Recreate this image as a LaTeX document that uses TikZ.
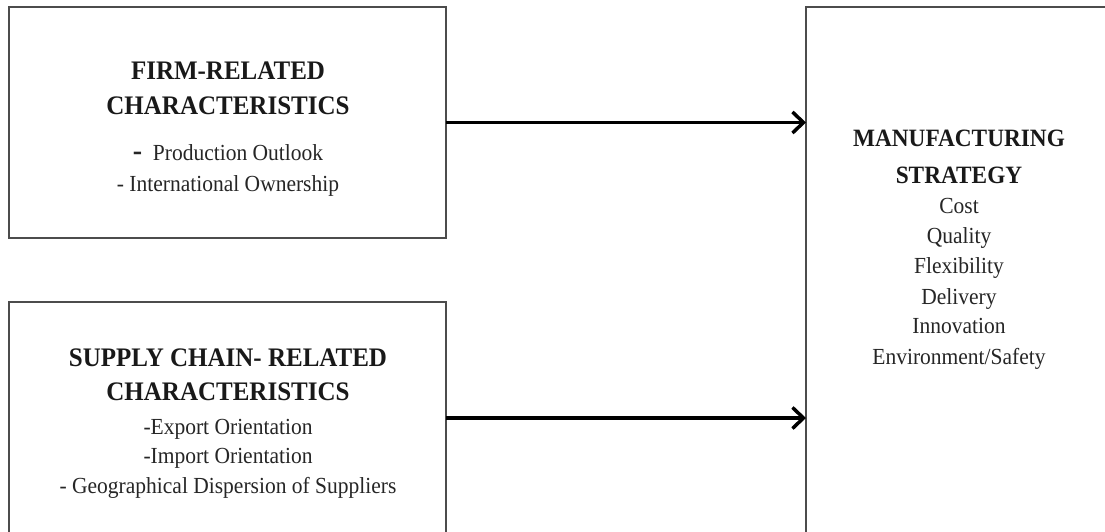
\documentclass[tikz,border=0pt]{standalone}
\usepackage{fontspec}
\setmainfont{Liberation Serif}
\usetikzlibrary{arrows.meta}
\begin{document}
\begin{tikzpicture}[x=1pt,y=1pt,
  boxstyle/.style={draw=black!70, line width=1.4pt, fill=white},
  headtext/.style={anchor=base, inner sep=0pt, yscale=1.07, transform shape, text=black!90, font=\fontsize{25}{28}\selectfont\bfseries},
  bodytext/.style={anchor=base, inner sep=0pt, yscale=1.07, transform shape, text=black!85, font=\fontsize{21.5}{24}\selectfont},
  arrowstyle/.style={line width=3.5pt, -{Straight Barb[length=11pt,width=21pt,line width=3.5pt]}}]
\useasboundingbox (0,0) rectangle (1105,531);
\clip (0,0) rectangle (1105,531);
% boxes
\draw[boxstyle] (9,524) rectangle (446,293);
\coordinate (firmE) at (446,408.5);
\draw[boxstyle] (9,229) rectangle (446,-3);
\coordinate (supplyE) at (446,113);
\draw[boxstyle] (806,524) rectangle (1120,-10);
\coordinate (mfgW1) at (806,408.5);
\coordinate (mfgW2) at (806,113);
% firm text
\node[headtext] (f1) at (228,451) {FIRM-RELATED};
\node[headtext] (f2) at (228,416) {CHARACTERISTICS};
\node[bodytext] (f3) at (228,370) {{\fontsize{28}{28}\selectfont\bfseries -}\ \ Production Outlook};
\node[bodytext] (f4) at (228,339) {- International Ownership};
% supply text
\node[headtext] (s1) at (228,165) {SUPPLY CHAIN- RELATED};
\node[headtext] (s2) at (228,131) {CHARACTERISTICS};
\node[bodytext] (s3) at (228,97) {-Export Orientation};
\node[bodytext] (s4) at (228,68) {-Import Orientation};
\node[bodytext] (s5) at (228,38) {- Geographical Dispersion of Suppliers};
% mfg text
\node[headtext, font=\fontsize{23.3}{26}\selectfont\bfseries] (m1) at (959,384) {MANUFACTURING};
\node[headtext, font=\fontsize{23.3}{26}\selectfont\bfseries] (m2) at (959,348) {STRATEGY};
\node[bodytext] (m3) at (959,317) {Cost};
\node[bodytext] (m4) at (959,288) {Quality};
\node[bodytext] (m5) at (959,258) {Flexibility};
\node[bodytext] (m6) at (959,227) {Delivery};
\node[bodytext] (m7) at (959,198) {Innovation};
\node[bodytext] (m8) at (959,167) {Environment/Safety};
% arrows
\draw[arrowstyle] (firmE) -- (mfgW1);
\draw[arrowstyle] (supplyE) -- (mfgW2);
\end{tikzpicture}
\end{document}
